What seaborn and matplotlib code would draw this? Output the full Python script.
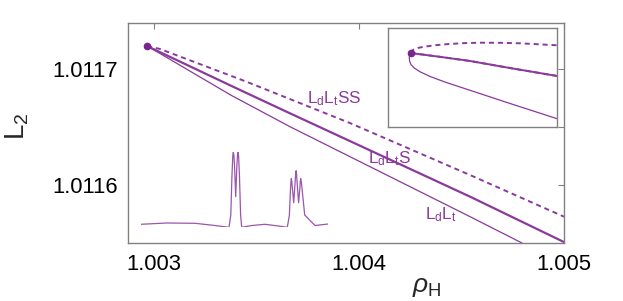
import matplotlib
matplotlib.use("Agg")
import matplotlib.pyplot as plt
import seaborn as sns

# main panel: the three branches leaving the fold point
fold_rho = 1.002966
fold_L2 = 1.0117193

rho_ss = [1.002966, 1.003029, 1.003449, 1.003956, 1.004542, 1.005]
L2_ss = [1.0117193, 1.0117168, 1.0116888, 1.0116531, 1.0116084, 1.0115726]

rho_s = [1.002966, 1.003420, 1.003663, 1.004542, 1.005]
L2_s = [1.0117193, 1.0116815, 1.0116615, 1.0115898, 1.0115508]

rho_t = [1.002966, 1.003029, 1.003376, 1.003663, 1.004542, 1.004795]
L2_t = [1.0117193, 1.0117129, 1.0116770, 1.0116500, 1.0115726, 1.0115500]

xticks = [1.003, 1.004, 1.005]
yticks_all = [1.0116, 1.01165, 1.0117]

# upper-right inset (zoom on the fold, arbitrary units)
ins_fold = (0.133, 0.748)
ins_x_ss = [0.133, 0.140, 0.150, 0.175, 0.207, 0.270, 0.346, 0.440, 0.543, 0.660, 0.779, 0.998]
ins_y_ss = [0.748, 0.770, 0.783, 0.799, 0.810, 0.825, 0.837, 0.847, 0.852, 0.851, 0.846, 0.826]
ins_x_s = [0.133, 0.300, 0.483, 0.720, 0.998]
ins_y_s = [0.748, 0.711, 0.668, 0.597, 0.517]
ins_x_t = [0.133, 0.124, 0.126, 0.134, 0.152, 0.188, 0.247, 0.335, 0.483, 0.720, 0.998]
ins_y_t = [0.748, 0.708, 0.668, 0.632, 0.599, 0.559, 0.512, 0.456, 0.373, 0.240, 0.087]

# lower-left inset: density profile
prof_pos = [0, 26, 54.3, 74.3, 88.3, 90.1, 91.2, 92.1, 92.6, 93.2, 93.9, 95, 96.1, 96.8, 97.4,
            97.9, 98.8, 99.9, 101, 111.3, 124.3, 136.3, 146.6, 148.7, 149.6, 150.2, 150.6,
            151.1, 151.8, 153, 154.2, 155, 155.4, 155.8, 156.6, 157.9, 159.1, 159.6, 160,
            160.7, 161.8, 164, 174.3, 187.6]
prof_val = [3, 4.3, 4, 1.8, 0, 12.3, 50, 71.5, 75, 72, 60, 30.6, 60, 72, 75,
            71.5, 50, 12.3, 0, 1.8, 3, 1.5, 0, 12.3, 34, 45, 48.6,
            46, 38, 24.6, 42, 54, 56.6, 54, 42, 24.6, 38, 46, 48.6,
            45, 34, 12.3, 1.8, 3.3]

sns.set_theme(style="white")
plt.rcParams["font.family"] = ["Liberation Sans", "DejaVu Sans"]
plt.rcParams["mathtext.fontset"] = "custom"
plt.rcParams["mathtext.rm"] = "Liberation Sans"
plt.rcParams["mathtext.it"] = "Liberation Sans:italic"

purple = "#8a3a9b"
dark = "#7a2490"
frame = "#808080"

fig = plt.figure(figsize=(6.23, 3.01), dpi=100)
ax = fig.add_axes([0.2055, 0.1927, 0.6998, 0.7319])

sns.lineplot(x=rho_t, y=L2_t, ax=ax, sort=False, estimator=None, color=purple, lw=0.9)
sns.lineplot(x=rho_s, y=L2_s, ax=ax, sort=False, estimator=None, color=purple, lw=1.6)
sns.lineplot(x=rho_ss, y=L2_ss, ax=ax, sort=False, estimator=None, color=purple, lw=1.4,
             dashes=False, linestyle=(0, (2.6, 2.0)))
ax.plot([fold_rho], [fold_L2], "o", color=dark, ms=4.5, mec=dark)

ax.set_xlim(1.002873, 1.005)
ax.set_ylim(1.01155, 1.0117394)
ax.set_xticks(xticks)
ax.set_xticklabels(["1.003", "1.004", "1.005"])
ax.set_yticks(yticks_all)
ax.set_yticklabels(["1.0116", "", "1.0117"])
ax.tick_params(direction="in", length=4, width=0.8, color=frame, labelsize=15.8,
               top=True, right=True, labelcolor="black")
ax.tick_params(axis="x", pad=8)
ax.tick_params(axis="y", pad=7)
for sp in ax.spines.values():
    sp.set_color(frame)
    sp.set_linewidth(1.0)
ax.set_xlabel("")
ax.set_ylabel("")

fig.text(427 / 623, 1 - 287 / 301, r"$\rho_\mathrm{H}$", fontsize=19, ha="center", va="center")
fig.text(17 / 623, 1 - 126 / 301, r"L$_2$", fontsize=20, rotation=90, ha="center", va="center")

lab = dict(color=purple, fontsize=12.3, ha="left", va="baseline")
ax.text(1.0037463, 1.0116703, r"L$_\mathrm{d}$L$_\mathrm{t}$SS", **lab)
ax.text(1.0040439, 1.0116187, r"L$_\mathrm{d}$L$_\mathrm{t}$S", **lab)
ax.text(1.0043220, 1.0115706, r"L$_\mathrm{d}$L$_\mathrm{t}$", **lab)

# fold zoom inset
axi = fig.add_axes([388.3 / 623, 1 - 127.3 / 301, 169 / 623, 99.3 / 301])
sns.lineplot(x=ins_x_t, y=ins_y_t, ax=axi, sort=False, estimator=None, color=purple, lw=0.9)
sns.lineplot(x=ins_x_s, y=ins_y_s, ax=axi, sort=False, estimator=None, color=purple, lw=1.4)
sns.lineplot(x=ins_x_s, y=ins_y_s, ax=axi, sort=False, estimator=None, color=purple, lw=1.4,
             dashes=False, linestyle=(0, (2.6, 2.0)))
sns.lineplot(x=ins_x_ss, y=ins_y_ss, ax=axi, sort=False, estimator=None, color=purple, lw=1.4,
             dashes=False, linestyle=(0, (2.6, 2.0)))
axi.plot([ins_fold[0]], [ins_fold[1]], "o", color=dark, ms=4.5, mec=dark)
axi.set_xlim(0, 1)
axi.set_ylim(0, 1)
axi.set_xticks([])
axi.set_yticks([])
axi.set_xlabel("")
axi.set_ylabel("")
for sp in axi.spines.values():
    sp.set_color(frame)
    sp.set_linewidth(1.0)

# profile inset
axp = fig.add_axes([140.7 / 623, 1 - 227.3 / 301, 187.6 / 623, 75.3 / 301])
axp.patch.set_alpha(0)
sns.lineplot(x=prof_pos, y=prof_val, ax=axp, sort=False, estimator=None, color="#9a55ad", lw=0.9)
axp.set_xlim(0, 187.6)
axp.set_ylim(0, 75.3)
axp.axis("off")

fig.savefig("out.png", dpi=100)
